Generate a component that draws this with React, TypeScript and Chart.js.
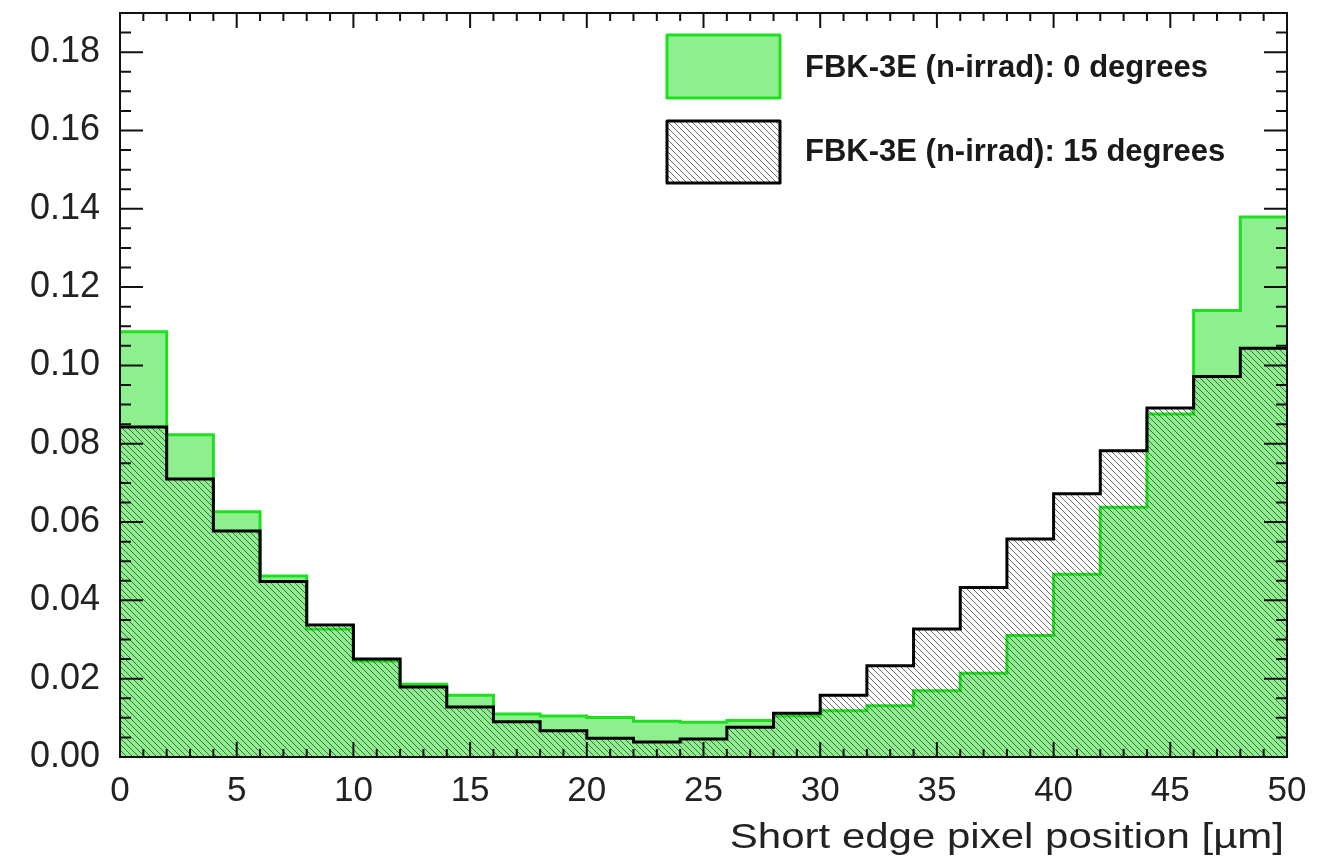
import React, { useEffect, useRef } from 'react';
import { Chart, registerables } from 'chart.js';

Chart.register(...registerables);

// ---- data ----
const binLowEdges = [0, 2, 4, 6, 8, 10, 12, 14, 16, 18, 20, 22, 24, 26, 28, 30, 32, 34, 36, 38, 40, 42, 44, 46, 48];
const xMax = 50;
const deg0Values = [
  0.1086, 0.0823, 0.0626, 0.0462, 0.0327, 0.0245, 0.0186, 0.0158, 0.0110, 0.0105,
  0.0101, 0.0091, 0.0089, 0.0093, 0.0105, 0.0118, 0.0131, 0.0169, 0.0214, 0.0310,
  0.0467, 0.0638, 0.0876, 0.1140, 0.1379,
];
const deg15Values = [
  0.0843, 0.0710, 0.0577, 0.0448, 0.0337, 0.0250, 0.0179, 0.0128, 0.0090, 0.0067,
  0.0048, 0.0038, 0.0046, 0.0076, 0.0112, 0.0158, 0.0233, 0.0327, 0.0433, 0.0557,
  0.0672, 0.0782, 0.0891, 0.0972, 0.1044,
];
const legendLabels = ['FBK-3E (n-irrad): 0 degrees', 'FBK-3E (n-irrad): 15 degrees'];
const xTitle = 'Short edge pixel position [\u00b5m]';
const yMin = 0;
const yMaxAxis = 0.19;
const yStep = 0.02;
const xStep = 5;

const FONT = '"Liberation Sans", Arial, Helvetica, sans-serif';
const GREEN_FILL = '#8eef8e';
const GREEN_LINE = '#1fe01f';

function toSteps(values: number[]) {
  const pts = binLowEdges.map((x, i) => ({ x, y: values[i] }));
  pts.push({ x: xMax, y: values[values.length - 1] });
  return pts;
}

function makeHatch(): CanvasPattern | string {
  const s = 6;
  const c = document.createElement('canvas');
  c.width = s;
  c.height = s;
  const g = c.getContext('2d');
  if (!g) return 'rgba(0,0,0,0.3)';
  g.strokeStyle = 'rgba(45,45,45,0.7)';
  g.lineWidth = 1.0;
  for (const off of [-s, 0, s]) {
    g.beginPath();
    g.moveTo(-1, off - 1);
    g.lineTo(s + 1, off + s + 1);
    g.stroke();
  }
  const p = g.createPattern(c, 'repeat');
  return p || 'rgba(0,0,0,0.3)';
}

export default function App() {
  const ref = useRef<HTMLCanvasElement | null>(null);

  useEffect(() => {
    const canvas = ref.current;
    if (!canvas) return;
    const hatch = makeHatch();

    const framePlugin = {
      id: 'rootFrame',
      afterDatasetsDraw(chart: any) {
        const { ctx, chartArea: a, scales } = chart;
        const xs = scales.x;
        const ys = scales.y;
        ctx.save();
        ctx.strokeStyle = '#111';
        ctx.lineWidth = 2;
        for (let v = 0; v <= xMax + 1e-9; v += 1) {
          const px = xs.getPixelForValue(v);
          const len = Math.round(v) % 5 === 0 ? 15 : 8;
          ctx.beginPath();
          ctx.moveTo(px, a.bottom);
          ctx.lineTo(px, a.bottom - len);
          ctx.moveTo(px, a.top);
          ctx.lineTo(px, a.top + len);
          ctx.stroke();
        }
        let i = 0;
        for (let v = yMin; v <= yMaxAxis + 1e-9; v += yStep / 4, i++) {
          const py = ys.getPixelForValue(v);
          const len = i % 4 === 0 ? 23 : 11;
          ctx.beginPath();
          ctx.moveTo(a.left, py);
          ctx.lineTo(a.left + len, py);
          ctx.moveTo(a.right, py);
          ctx.lineTo(a.right - len, py);
          ctx.stroke();
        }
        ctx.strokeRect(a.left, a.top, a.right - a.left, a.bottom - a.top);
        ctx.restore();
      },
      afterDraw(chart: any) {
        const { ctx, chartArea: a } = chart;
        ctx.save();
        ctx.lineJoin = 'round';
        // legend entry 1
        ctx.fillStyle = GREEN_FILL;
        ctx.fillRect(667, 35, 113, 63);
        ctx.strokeStyle = GREEN_LINE;
        ctx.lineWidth = 3;
        ctx.strokeRect(667, 35, 113, 63);
        // legend entry 2
        ctx.fillStyle = '#ffffff';
        ctx.fillRect(667, 121, 113, 62);
        ctx.fillStyle = hatch as any;
        ctx.fillRect(667, 121, 113, 62);
        ctx.strokeStyle = '#000';
        ctx.lineWidth = 3;
        ctx.strokeRect(667, 121, 113, 62);
        ctx.fillStyle = '#1a1a1a';
        ctx.font = `bold 31px ${FONT}`;
        ctx.textAlign = 'left';
        ctx.textBaseline = 'alphabetic';
        ctx.fillText(legendLabels[0], 805, 77);
        ctx.fillText(legendLabels[1], 805, 161);
        ctx.restore();

        // x-axis title (right aligned, ROOT style wide glyphs)
        ctx.save();
        ctx.fillStyle = '#222';
        ctx.font = `35px ${FONT}`;
        ctx.textAlign = 'right';
        ctx.textBaseline = 'alphabetic';
        ctx.translate(a.right - 3, 848);
        ctx.scale(1.2, 1);
        ctx.fillText(xTitle, 0, 0);
        ctx.restore();
      },
    };

    const chart = new Chart(canvas, {
      type: 'line',
      data: {
        datasets: [
          {
            label: legendLabels[1],
            data: toSteps(deg15Values),
            stepped: 'before',
            fill: 'origin',
            backgroundColor: hatch as any,
            borderColor: '#000',
            borderWidth: 3,
            pointRadius: 0,
            order: 0,
          },
          {
            label: legendLabels[0],
            data: toSteps(deg0Values),
            stepped: 'before',
            fill: 'origin',
            backgroundColor: GREEN_FILL,
            borderColor: GREEN_LINE,
            borderWidth: 3,
            pointRadius: 0,
            order: 1,
          },
        ],
      },
      options: {
        animation: false,
        responsive: true,
        maintainAspectRatio: false,
        layout: { padding: { top: 13, right: 39, left: 0, bottom: 0 } },
        plugins: {
          legend: { display: false },
          tooltip: { enabled: false },
        },
        scales: {
          x: {
            type: 'linear',
            min: 0,
            max: xMax,
            grid: { display: false, drawTicks: false },
            border: { display: false },
            ticks: {
              stepSize: xStep,
              color: '#222',
              padding: 13,
              maxRotation: 0,
              font: { family: FONT, size: 35 },
            },
            afterFit: (s: any) => {
              s.height = 103;
              s.paddingLeft = 0;
              s.paddingRight = 0;
            },
          },
          y: {
            type: 'linear',
            min: yMin,
            max: yMaxAxis,
            grid: { display: false, drawTicks: false },
            border: { display: false },
            ticks: {
              stepSize: yStep,
              includeBounds: false,
              color: '#222',
              padding: 20,
              font: { family: FONT, size: 36 },
              callback: (v: any) => Number(v).toFixed(2),
            },
            afterFit: (s: any) => {
              s.width = 120;
              s.paddingTop = 0;
              s.paddingBottom = 0;
            },
          },
        },
      } as any,
      plugins: [framePlugin],
    });

    return () => chart.destroy();
  }, []);

  return (
    <div style={{ position: 'fixed', left: 0, top: 0, width: 1326, height: 860, background: '#fff' }}>
      <canvas ref={ref} />
    </div>
  );
}
